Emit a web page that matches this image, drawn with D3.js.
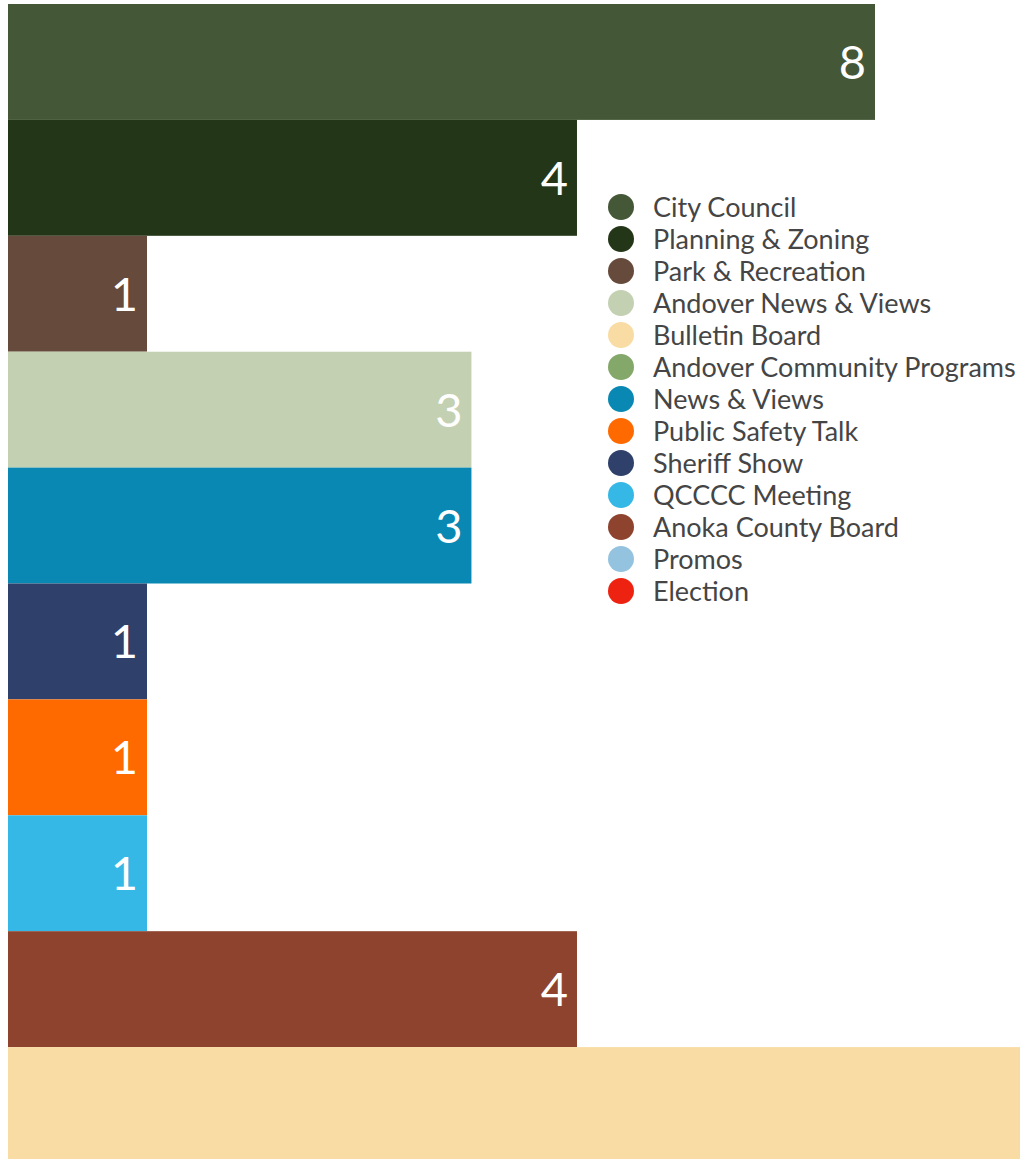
<!DOCTYPE html>
<html>
<head>
<meta charset="utf-8">
<script src="https://cdn.jsdelivr.net/npm/d3@7"></script>
<style>
  body { margin: 0; background: #fff; overflow: hidden; }
  svg { display: block; }
</style>
</head>
<body>
<div id="chart"></div>
<script>
var width = 1020;
var height = 1159;

// bars, top to bottom
var barNames = ["City Council", "Planning & Zoning", "Park & Recreation", "Andover News & Views",
  "News & Views", "Sheriff Show", "Public Safety Talk", "QCCCC Meeting", "Anoka County Board", "Bulletin Board"];
var barValues = [8, 4, 1, 3, 3, 1, 1, 1, 4, 14];

// legend entries
var legendNames = ["City Council", "Planning & Zoning", "Park & Recreation", "Andover News & Views",
  "Bulletin Board", "Andover Community Programs", "News & Views", "Public Safety Talk",
  "Sheriff Show", "QCCCC Meeting", "Anoka County Board", "Promos", "Election"];
var legendColors = ["#445737", "#243618", "#664a3b", "#c3d1b2", "#f8dca4", "#84a86a", "#0888b2",
  "#ff6a00", "#2f416b", "#35b8e6", "#8d432d", "#94c3e0", "#ee2211"];

var color = d3.scaleOrdinal().domain(legendNames).range(legendColors);

var margin = {top: 4, left: 8};

var svg = d3.select("#chart").append("svg")
  .attr("width", width)
  .attr("height", height);

// last bar runs past the bottom edge
var y = d3.scaleBand()
  .domain(barNames)
  .range([margin.top, margin.top + 1159])
  .padding(0);

// bar lengths are not linear in the source chart; a power scale fits them
var x = d3.scalePow()
  .exponent(0.32)
  .domain([1, 8])
  .range([139, 867]);

var data = barNames.map(function(n, i) { return {name: n, value: barValues[i]}; });

svg.selectAll("rect.bar")
  .data(data)
  .enter().append("rect")
  .attr("class", "bar")
  .attr("x", margin.left)
  .attr("y", function(d) { return y(d.name); })
  .attr("width", function(d) { return x(d.value); })
  .attr("height", y.bandwidth())
  .attr("fill", function(d) { return color(d.name); });

// labels that would fall outside the picture are not drawn (as in the original)
svg.selectAll("text.val")
  .data(data.filter(function(d) { return margin.left + x(d.value) < width; }))
  .enter().append("text")
  .attr("class", "val")
  .attr("x", function(d) { return margin.left + x(d.value) - 9; })
  .attr("y", function(d) { return y(d.name) + y.bandwidth() / 2 + 17; })
  .attr("text-anchor", "end")
  .style("font-family", "Lato, 'Open Sans', sans-serif")
  .style("font-size", "47px")
  .style("fill", "#fff")
  .text(function(d) { return d.value; });

// legend
var legend = svg.append("g").attr("transform", "translate(621,207)");

var item = legend.selectAll("g")
  .data(legendNames)
  .enter().append("g")
  .attr("transform", function(d, i) { return "translate(0," + (i * 32) + ")"; });

item.append("circle")
  .attr("r", 13)
  .attr("fill", function(d) { return color(d); });

item.append("text")
  .attr("x", 32)
  .attr("y", 10)
  .style("font-family", "Lato, 'Open Sans', sans-serif")
  .style("font-size", "27px")
  .style("fill", "#454545")
  .text(function(d) { return d; });
</script>
</body>
</html>
